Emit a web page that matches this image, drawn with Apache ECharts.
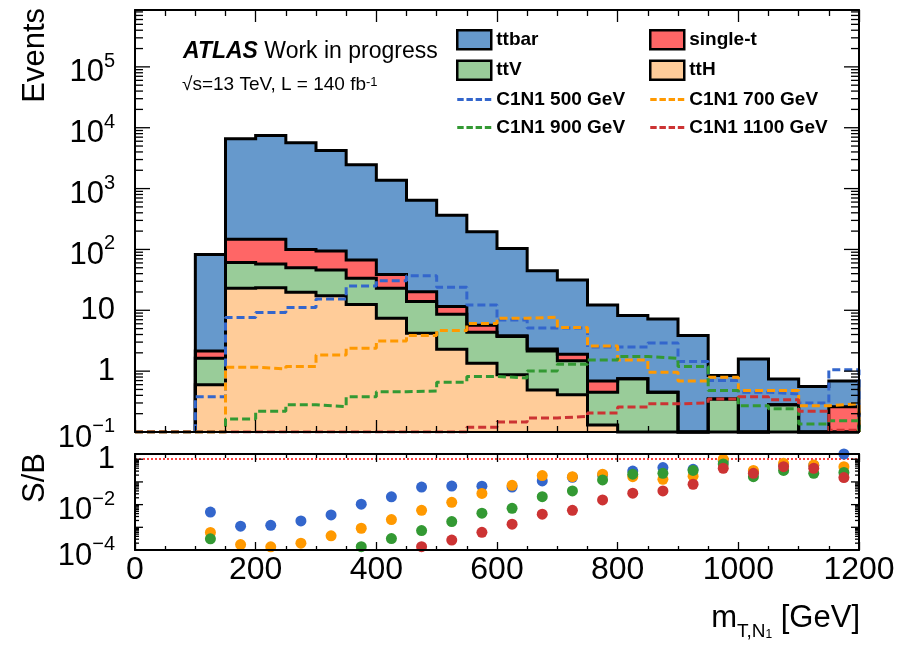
<!DOCTYPE html>
<html>
<head>
<meta charset="utf-8">
<script src="https://cdn.jsdelivr.net/npm/echarts@6.0.0/dist/echarts.min.js"></script>
<style>
html,body{margin:0;padding:0;background:#fff;}
#chart{width:900px;height:648px;}
</style>
</head>
<body>
<div id="chart"></div>
<script>
// ---------------- data ----------------
const binEdges   = [100,150,200,250,300,350,400,450,500,550,600,650,700,750,800,850,900,950,1000,1050,1100,1150,1200];
const binCenters = [125,175,225,275,325,375,425,475,525,575,625,675,725,775,825,875,925,975,1025,1075,1125,1175];

// background processes (events per bin)
const ttH     = [0.6, 23, 23.5, 19.7, 17.4, 12.5, 7.4, 4.2, 2.3, 1.35, 0.87, 0.49, 0.41, 0.13, 0, 0, 0, 0, 0, 0, 0, 0];
const ttV     = [1.03, 38, 34, 30.3, 28.4, 21, 15.6, 9.7, 6.3, 3.0, 2.83, 1.66, 1.07, 0.32, 0.75, 0.45, 0, 0.35, 0, 0.28, 0, 0];
const singleT = [0.52, 86, 89.5, 50, 48.2, 33.3, 15.9, 6.3, 2.9, 1.34, 0.1, 0.17, 0.42, 0.24, 0, 0, 0, 0, 0, 0, 0, 0.26];
const ttbar   = [80.6, 6450, 7330, 5580, 4150, 2400, 1330, 623, 354, 189, 100, 42.5, 29.5, 11.5, 7.45, 6.75, 3.85, 0.50, 1.59, 0.46, 0.56, 0.43];

// signals (events per bin)
const sig500  = [0.38, 7.6, 9.2, 11.1, 15.3, 25, 30.6, 37, 23.8, 12.2, 6.9, 5.1, 5.1, 2.5, 2.5, 2.9, 1.44, 0.70, 0.45, 0.42, 0.30, 1.05];
const sig700  = [0.049, 1.16, 1.09, 1.19, 1.85, 2.38, 3.14, 3.85, 4.65, 6.04, 7.4, 7.7, 5.2, 2.6, 1.53, 0.96, 0.69, 0.79, 0.48, 0.48, 0.27, 0.29];
const sig900  = [0.026, 0.163, 0.22, 0.28, 0.26, 0.38, 0.46, 0.47, 0.66, 0.82, 0.77, 1.01, 1.3, 1.53, 1.74, 1.63, 1.19, 0.48, 0.27, 0.24, 0.135, 0.153];
const sig1100 = [0.005, 0.02, 0.03, 0.03, 0.04, 0.05, 0.06, 0.09, 0.10, 0.12, 0.146, 0.17, 0.18, 0.205, 0.257, 0.29, 0.30, 0.35, 0.38, 0.34, 0.22, 0.107];

// S/B per bin (null = below the panel range)
const sb500  = [4.7e-3, 1.12e-3, 1.23e-3, 1.9e-3, 3.5e-3, 1.05e-2, 2.2e-2, 5.9e-2, 6.6e-2, 6.5e-2, 5.9e-2, 0.11, 0.16, 0.20, 0.30, 0.43, 0.36, 0.83, 0.28, 0.56, 0.54, 1.7];
const sb700  = [5.9e-4, 1.74e-4, 1.38e-4, 2.0e-4, 4.2e-4, 9.1e-4, 2.2e-3, 5.6e-3, 1.26e-2, 3.1e-2, 7.1e-2, 0.19, 0.17, 0.22, 0.17, 0.13, 0.18, 1.0, 0.32, 0.66, 0.56, 0.47];
const sb900  = [3.1e-4, null, null, null, null, 1.4e-4, 3.2e-4, 7.2e-4, 1.78e-3, 4.2e-3, 6.9e-3, 2.24e-2, 4.0e-2, 0.123, 0.22, 0.24, 0.32, 0.62, 0.17, 0.32, 0.24, 0.26];
const sb1100 = [null, null, null, null, null, null, null, 1.4e-4, 2.75e-4, 6.0e-4, 1.38e-3, 3.8e-3, 5.6e-3, 1.6e-2, 3.2e-2, 4.0e-2, 7.9e-2, 0.40, 0.24, 0.47, 0.40, 0.155];

// tick labels
const upperYTickLabels = [[0.1,'{b|10}{sup|−1}'],[1,'{b0|1}'],[10,'{b0|10}'],[100,'{b|10}{sup|2}'],[1000,'{b|10}{sup|3}'],[1e4,'{b|10}{sup|4}'],[1e5,'{b|10}{sup|5}']];
const lowerYTickLabels = [[1e-4,'{b|10}{sup|−4}'],[1e-2,'{b|10}{sup|−2}'],[1,'{b0|1}']];
const logTickMultipliers = [1,2,3,4,5,6,7,8,9];

// ---------------- style ----------------
const FONT = 'Liberation Sans, Arial, Helvetica, sans-serif';
const COL = {ttbar:'#6699cc', singleT:'#ff6666', ttV:'#99cc99', ttH:'#ffcc99',
             s500:'#3366cc', s700:'#ff9900', s900:'#339933', s1100:'#cc3333'};
const Y0_MIN = 0.1, Y0_MAX = 8.6e5;
const Y1_MIN = 1e-4, Y1_MAX = 1.7;
const X_MIN = 0, X_MAX = 1200;
const nBins = binCenters.length;
const DASH_ICON = 'path://M0,0h7v3h-7zM10,0h7v3h-7zM20,0h7v3h-7zM30,0h7v3h-7z';

// cumulative stack (bottom -> top)
const layers = [
  {name:'ttH', data:ttH, color:COL.ttH},
  {name:'ttV', data:ttV, color:COL.ttV},
  {name:'single-t', data:singleT, color:COL.singleT},
  {name:'ttbar', data:ttbar, color:COL.ttbar}
];
let running = new Array(nBins).fill(0);
layers.forEach(l => {
  l.lo = running.slice();
  running = running.map((r, i) => r + l.data[i]);
  l.hi = running.slice();
});

function fillSeries(l) {
  return {
    type:'custom', name:l.name, xAxisIndex:0, yAxisIndex:0, z:2, silent:true,
    itemStyle:{color:l.color},
    data:[[600, 1]],
    renderItem:(params, api) => {
      const top = [], bot = [];
      for (let i = 0; i < nBins; i++) {
        const hi = Math.max(l.hi[i], Y0_MIN), lo = Math.max(l.lo[i], Y0_MIN);
        top.push(api.coord([binEdges[i], hi]), api.coord([binEdges[i+1], hi]));
        bot.push(api.coord([binEdges[i], lo]), api.coord([binEdges[i+1], lo]));
      }
      return {type:'polygon', shape:{points: top.concat(bot.reverse())}, style:{fill:l.color}};
    }
  };
}

const outlineSeries = {
  type:'custom', xAxisIndex:0, yAxisIndex:0, z:3, silent:true,
  data: layers.map((l, k) => [k, 1]),
  renderItem:(params, api) => {
    const l = layers[params.dataIndex];
    const pts = [api.coord([binEdges[0], Y0_MIN])];
    for (let i = 0; i < nBins; i++) {
      const hi = Math.max(l.hi[i], Y0_MIN);
      pts.push(api.coord([binEdges[i], hi]), api.coord([binEdges[i+1], hi]));
    }
    pts.push(api.coord([binEdges[nBins], Y0_MIN]));
    return {type:'polyline', shape:{points:pts}, style:{stroke:'#000', lineWidth:3, fill:null, lineJoin:'miter'}};
  }
};

function stepData(vals) {
  const d = [[X_MIN, Y0_MIN]];
  vals.forEach((v, i) => d.push([binEdges[i], Math.max(v, Y0_MIN)]));
  d.push([binEdges[nBins], Math.max(vals[nBins-1], Y0_MIN)]);
  d.push([binEdges[nBins], Y0_MIN]);
  return d;
}
function signalSeries(name, vals, color) {
  return {
    type:'line', name, xAxisIndex:0, yAxisIndex:0, step:'end', symbol:'none', showSymbol:false,
    data: stepData(vals), z:4, silent:true, clip:true,
    lineStyle:{color, width:3, type:[8,4]}, itemStyle:{color}
  };
}
function sbSeries(name, vals, color, extra) {
  const data = [];
  vals.forEach((v, i) => { if (v != null) data.push([binCenters[i], v]); });
  return Object.assign({
    type:'scatter', name, xAxisIndex:2, yAxisIndex:2, symbol:'circle', symbolSize:11,
    data, z:5, silent:true, clip:false, itemStyle:{color, opacity:1}
  }, extra || {});
}

function logTickSeries(xIdx, yIdx, ymin, ymax, major, minor) {
  return {
    type:'custom', xAxisIndex:xIdx, yAxisIndex:yIdx, z:11, silent:true, clip:false,
    data:[[600, ymin]],
    renderItem:(params, api) => {
      const children = [];
      const e0 = Math.floor(Math.log10(ymin)), e1 = Math.ceil(Math.log10(ymax));
      for (let e = e0; e <= e1; e++) {
        logTickMultipliers.forEach(k => {
          const v = k * Math.pow(10, e);
          if (v < ymin * 0.9999 || v > ymax * 1.0001) return;
          const L = k === 1 ? major : minor;
          const pl = api.coord([X_MIN, v]), pr = api.coord([X_MAX, v]);
          children.push({type:'line', shape:{x1:pl[0], y1:pl[1], x2:pl[0] + L, y2:pl[1]}, style:{stroke:'#000', lineWidth:1.3}});
          children.push({type:'line', shape:{x1:pr[0], y1:pr[1], x2:pr[0] - L, y2:pr[1]}, style:{stroke:'#000', lineWidth:1.3}});
        });
      }
      return {type:'group', children};
    }
  };
}

function makeFmt(table) {
  return v => {
    const f = table.find(p => Math.abs(Math.log10(p[0]) - Math.log10(v)) < 1e-6);
    return f ? f[1] : '';
  };
}
const richY = {
  b0:{fontSize:31, fontFamily:FONT, color:'#000'},
  b:{fontSize:31, fontFamily:FONT, color:'#000', padding:[12,0,0,0], verticalAlign:'bottom'},
  sup:{fontSize:20, fontFamily:FONT, color:'#000', padding:[6,0,0,0], verticalAlign:'top'}
};

function xAxisDef(gridIndex, position, showLabel, major, minor) {
  return {
    type:'value', gridIndex, position, min:X_MIN, max:X_MAX, interval:200, z:10,
    axisLine:{show:true, onZero:false, lineStyle:{color:'#000', width:2}},
    axisTick:{show:true, inside:true, length:major, lineStyle:{color:'#000', width:1.3}},
    minorTick:{show:true, splitNumber:4, length:minor, lineStyle:{color:'#000', width:1.3}},
    splitLine:{show:false}, minorSplitLine:{show:false},
    axisLabel:{show:showLabel, color:'#000', fontFamily:FONT, fontSize:32, margin:4,
               formatter: v => String(v)}
  };
}
function yAxisDef(gridIndex, position, min, max, labels) {
  return {
    type:'log', logBase:10, gridIndex, position, min, max, z:10,
    axisLine:{show:true, onZero:false, lineStyle:{color:'#000', width:2}},
    axisTick:{show:false}, minorTick:{show:false}, splitLine:{show:false},
    axisLabel: labels ? {show:true, margin:20, color:'#000', fontFamily:FONT, fontSize:31,
                         formatter:makeFmt(labels), rich:richY} : {show:false}
  };
}

const boxStyle = {borderColor:'#000', borderWidth:2.5};
const legendText = {fontSize:19, fontWeight:'bold', color:'#000', fontFamily:FONT};

const option = {
  animation:false,
  backgroundColor:'#ffffff',
  grid:[
    {left:135, top:10, width:724, height:422, outerBoundsMode:'none'},
    {left:135, top:454, width:724, height:96, outerBoundsMode:'none'}
  ],
  xAxis:[
    xAxisDef(0, 'bottom', false, 12, 6),
    xAxisDef(0, 'top', false, 12, 6),
    xAxisDef(1, 'bottom', true, 8, 4),
    xAxisDef(1, 'top', false, 8, 4)
  ],
  yAxis:[
    yAxisDef(0, 'left', Y0_MIN, Y0_MAX, upperYTickLabels),
    yAxisDef(0, 'right', Y0_MIN, Y0_MAX, null),
    yAxisDef(1, 'left', Y1_MIN, Y1_MAX, lowerYTickLabels),
    yAxisDef(1, 'right', Y1_MIN, Y1_MAX, null)
  ],
  legend:[
    {left:451, top:24, orient:'vertical', itemWidth:34, itemHeight:19, itemGap:9, selectedMode:false,
     textStyle:legendText,
     data:[{name:'ttbar', icon:'rect', itemStyle:boxStyle},
           {name:'ttV', icon:'rect', itemStyle:boxStyle},
           {name:'C1N1 500 GeV', icon:DASH_ICON}, {name:'C1N1 900 GeV', icon:DASH_ICON}]},
    {left:644, top:24, orient:'vertical', itemWidth:34, itemHeight:19, itemGap:9, selectedMode:false,
     textStyle:legendText,
     data:[{name:'single-t', icon:'rect', itemStyle:boxStyle},
           {name:'ttH', icon:'rect', itemStyle:boxStyle},
           {name:'C1N1 700 GeV', icon:DASH_ICON}, {name:'C1N1 1100 GeV', icon:DASH_ICON}]}
  ],
  graphic:[
    {type:'text', x:183, y:52, style:{text:'{a|ATLAS}{w| Work in progress}', verticalAlign:'middle', align:'left',
      rich:{a:{fontSize:23, fontWeight:'bold', fontStyle:'italic', fontFamily:FONT, fill:'#000', color:'#000'},
            w:{fontSize:23, fontFamily:FONT, fill:'#000', color:'#000'}}}},
    {type:'text', x:182, y:85, style:{text:'√s=13 TeV, L = 140 fb{sup|-1}', fontSize:19, fontFamily:FONT, fill:'#000',
      verticalAlign:'middle', align:'left',
      rich:{sup:{fontSize:13, fontFamily:FONT, fill:'#000', color:'#000', verticalAlign:'top'}}}},
    {type:'text', x:35, y:8, rotation:Math.PI/2, style:{text:'Events', fontSize:31, fontFamily:FONT, fill:'#000', align:'right', verticalAlign:'middle'}},
    {type:'text', x:35, y:453, rotation:Math.PI/2, style:{text:'S/B', fontSize:31, fontFamily:FONT, fill:'#000', align:'right', verticalAlign:'middle'}},
    {type:'text', x:860, y:622, style:{text:'{m|m}{s|T,N}{ss|1}{m| [GeV]}', align:'right', verticalAlign:'middle',
      rich:{m:{fontSize:31, fontFamily:FONT, fill:'#000', color:'#000', verticalAlign:'top'},
            s:{fontSize:19, fontFamily:FONT, fill:'#000', color:'#000', verticalAlign:'bottom', padding:[16,0,0,0]},
            ss:{fontSize:12, fontFamily:FONT, fill:'#000', color:'#000', verticalAlign:'bottom', padding:[26,0,0,0]}}}}
  ],
  series:[
    ...layers.map(fillSeries),
    outlineSeries,
    signalSeries('C1N1 500 GeV', sig500, COL.s500),
    signalSeries('C1N1 700 GeV', sig700, COL.s700),
    signalSeries('C1N1 900 GeV', sig900, COL.s900),
    signalSeries('C1N1 1100 GeV', sig1100, COL.s1100),
    logTickSeries(0, 0, Y0_MIN, Y0_MAX, 15, 8),
    logTickSeries(2, 2, Y1_MIN, Y1_MAX, 8, 4),
    sbSeries('S/B 500', sb500, COL.s500, {markLine:{silent:true, symbol:['none','none'], label:{show:false},
      lineStyle:{color:'#ff0000', type:[2,2], width:1.5, opacity:1}, emphasis:{disabled:true}, data:[{yAxis:1}], animation:false}}),
    sbSeries('S/B 700', sb700, COL.s700),
    sbSeries('S/B 900', sb900, COL.s900),
    sbSeries('S/B 1100', sb1100, COL.s1100)
  ]
};

const chart = echarts.init(document.getElementById('chart'), null, {renderer:'canvas'});
chart.setOption(option);
</script>
</body>
</html>
